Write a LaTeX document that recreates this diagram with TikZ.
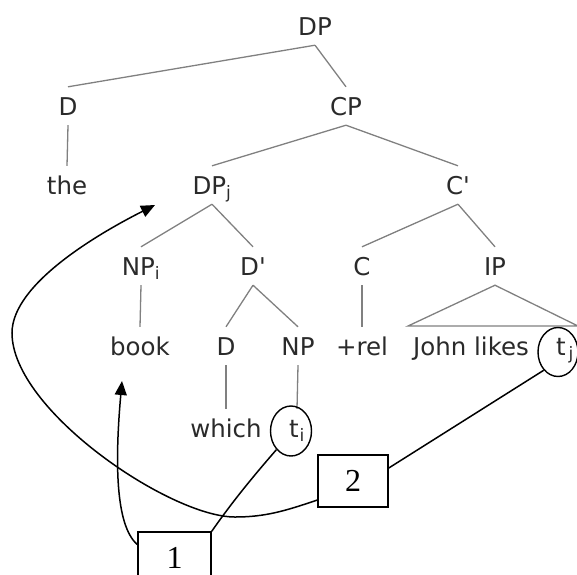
\documentclass[tikz,border=0pt]{standalone}
\usepackage{fontspec}
\setmainfont{DejaVu Sans}
\newfontfamily\numfont{Liberation Serif}
\usetikzlibrary{arrows.meta,shapes.geometric}
\definecolor{txt}{HTML}{2A2A2A}
\definecolor{linegray}{HTML}{808080}
\newcommand{\barmark}{\textquotesingle}
\begin{document}
\begin{tikzpicture}[x=1pt,y=-1pt,
  lbl/.style={font=\fontsize{24.5}{29}\selectfont, text=txt, anchor=base,
    inner xsep=0pt, inner ysep=10pt, text height=18pt, text depth=0pt},
  treeline/.style={draw=linegray, line width=1.3pt},
  trace/.style={draw=black, line width=1.4pt, ellipse, minimum width=41pt,
    minimum height=50pt, inner sep=0pt},
  stepbox/.style={draw=black, line width=1.6pt, rectangle, inner sep=0pt,
    font=\numfont\fontsize{32}{36}\selectfont},
  move/.style={draw=black, line width=1.5pt},
  movearrow/.style={move, -{Triangle[length=14pt,width=12pt]}}]
\useasboundingbox (0,0) rectangle (577,574);

% tree labels
\node[lbl] (dp)   at (315,35)  {DP};
\node[lbl] (d1)   at (68,115)  {D};
\node[lbl] (cp)   at (346,115) {CP};
\node[lbl] (the)  at (67,194)  {the};
\node[lbl] (dpj)  at (212,194) {DP\textsubscript{j}};
\node[lbl] (cbar) at (458,194) {C\barmark};
\node[lbl] (npi)  at (141,275) {NP\textsubscript{i}};
\node[lbl] (dbar) at (253,275) {D\barmark};
\node[lbl] (c)    at (362,275) {C};
\node[lbl] (ip)   at (495,275) {IP};
\node[lbl] (book) at (140,355) {book};
\node[lbl] (d2)   at (226,355) {D};
\node[lbl] (np)   at (298,355) {NP};
\node[lbl] (rel)  at (362,355) {+rel};
\node[lbl] (john) at (471,355) {John likes};
\node[lbl] (tj)   at (565,355) {t\kern3pt\textsubscript{j}};
\node[lbl] (which) at (226,437) {which};
\node[lbl] (ti)   at (297,437) {t\kern1pt\textsubscript{i}};

% branches
\draw[treeline] (dp.south) -- (d1.north);
\draw[treeline] (dp.south) -- (cp.north);
\draw[treeline] (d1.south) -- (the.north);
\draw[treeline] (cp.south) -- (dpj.north);
\draw[treeline] (cp.south) -- (cbar.north);
\draw[treeline] (dpj.south) -- (npi.north);
\draw[treeline] (dpj.south) -- (dbar.north);
\draw[treeline] (cbar.south) -- (c.north);
\draw[treeline] (cbar.south) -- (ip.north);
\draw[treeline] (npi.south) -- (book.north);
\draw[treeline] (dbar.south) -- (d2.north);
\draw[treeline] (dbar.south) -- (np.north);
\draw[treeline] (c.south) -- (rel.north);
\draw[treeline] (d2.south) -- (which.north);
\draw[treeline] (np.south) -- (ti.north);
% IP triangle over "John likes t"
\coordinate (ipl) at (408,326);
\coordinate (ipr) at (578,326);
\draw[treeline] (ip.south) -- (ipl) -- (ipr) -- cycle;

% circled traces
\node[trace] (ci) at (291,431) {};
\node[trace, minimum width=40pt, minimum height=49pt] (cj) at (558,352) {};

% numbered steps
\node[stepbox, minimum width=70pt, minimum height=52pt] (b2) at (353,481) {2};
\node[stepbox, minimum width=73pt, minimum height=52pt] (b1) at (174.5,558) {1};

% step 1: NP_i moves up to its landing site
\coordinate (tipA) at (122,381);
\draw[move] (ci.232) .. controls (250,480) and (230,505) .. (b1.north east);
\draw[movearrow] (b1.160) .. controls (115,525) and (115,460) .. (tipA);

% step 2: DP_j moves to Spec,CP
\coordinate (tipB) at (155,205);
\draw[move] (b2.20) -- (cj.232);
\draw[movearrow] (b2.208) .. controls (285,511) and (265,517) .. (235,517)
  .. controls (170,517) and (12,410) .. (12,333)
  .. controls (12,283) and (101.6,232) .. (tipB);
\end{tikzpicture}
\end{document}
